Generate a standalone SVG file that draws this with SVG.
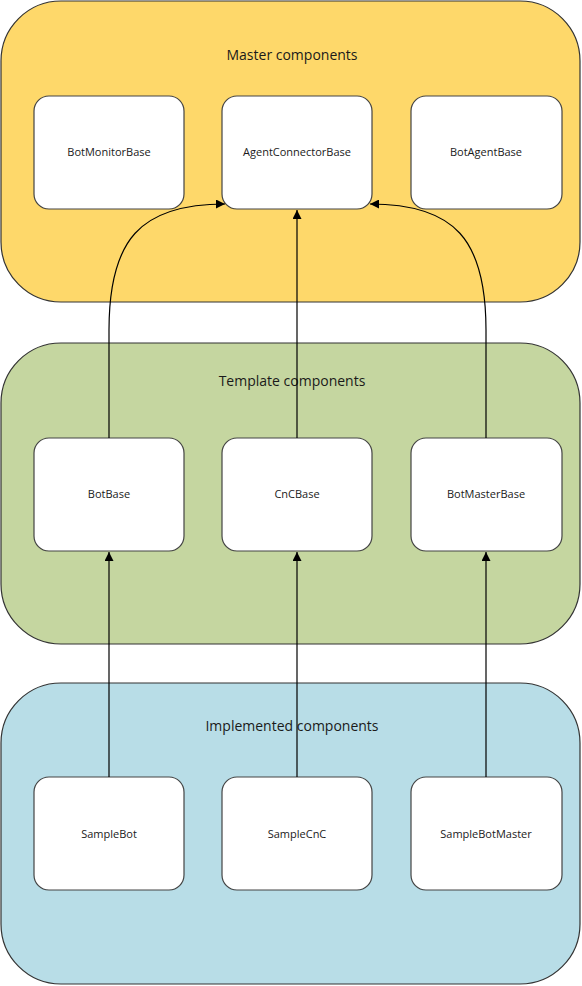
<svg xmlns="http://www.w3.org/2000/svg" width="582" height="986" viewBox="0 0 582 986">
<style>
.cont{stroke:#333;stroke-width:1.2}
.node{fill:#fff;stroke:#444;stroke-width:1.2}
.title{font-family:"Open Sans","Noto Sans",sans-serif;font-size:14px;fill:#1a1a1a;text-anchor:middle}
.lbl{font-family:"Open Sans","Noto Sans",sans-serif;font-size:11px;fill:#1a1a1a;text-anchor:middle}
.edge{fill:none;stroke:#000;stroke-width:1.2;marker-end:url(#arr)}
</style>
<defs>
<marker id="arr" viewBox="0 0 10 10" refX="10" refY="5" markerWidth="9" markerHeight="9" markerUnits="userSpaceOnUse" orient="auto">
<path d="M0,0 L10,5 L0,10 z" fill="#000"/>
</marker>
</defs>
<g id="master">
<rect class="cont" x="1" y="1" width="579" height="301" rx="60" ry="60" fill="#FED86A"/>
<text class="title" x="292" y="60">Master components</text>
</g>
<g id="template">
<rect class="cont" x="1" y="343" width="579" height="301" rx="60" ry="60" fill="#C5D6A0"/>
<text class="title" x="292" y="386">Template components</text>
</g>
<g id="implemented">
<rect class="cont" x="1" y="683" width="579" height="301" rx="60" ry="60" fill="#B8DDE7"/>
<text class="title" x="292" y="731">Implemented components</text>
</g>
<g id="BotMonitorBase"><rect class="node" x="34" y="96" width="150" height="113" rx="15"/><text class="lbl" x="109" y="156">BotMonitorBase</text></g>
<g id="AgentConnectorBase"><rect class="node" x="222" y="96" width="150" height="113" rx="15"/><text class="lbl" x="297" y="156">AgentConnectorBase</text></g>
<g id="BotAgentBase"><rect class="node" x="411" y="96" width="151" height="113" rx="15"/><text class="lbl" x="486" y="156">BotAgentBase</text></g>
<g id="BotBase"><rect class="node" x="34" y="438" width="150" height="113" rx="15"/><text class="lbl" x="109" y="498">BotBase</text></g>
<g id="CnCBase"><rect class="node" x="222" y="438" width="150" height="113" rx="15"/><text class="lbl" x="297" y="498">CnCBase</text></g>
<g id="BotMasterBase"><rect class="node" x="411" y="438" width="151" height="113" rx="15"/><text class="lbl" x="486" y="498">BotMasterBase</text></g>
<g id="SampleBot"><rect class="node" x="34" y="777" width="150" height="113" rx="15"/><text class="lbl" x="109" y="838">SampleBot</text></g>
<g id="SampleCnC"><rect class="node" x="222" y="777" width="150" height="113" rx="15"/><text class="lbl" x="297" y="838">SampleCnC</text></g>
<g id="SampleBotMaster"><rect class="node" x="411" y="777" width="151" height="113" rx="15"/><text class="lbl" x="486" y="838">SampleBotMaster</text></g>
<g id="connectors">
<path class="edge" d="M109,438 L109,330 C109,240 140,204 225,204"/>
<path class="edge" d="M297,438 L297,210"/>
<path class="edge" d="M486,438 L486,330 C486,240 455,204 370,204"/>
<path class="edge" d="M109,777 L109,552"/>
<path class="edge" d="M297,777 L297,552"/>
<path class="edge" d="M486,777 L486,552"/>
</g>
</svg>
